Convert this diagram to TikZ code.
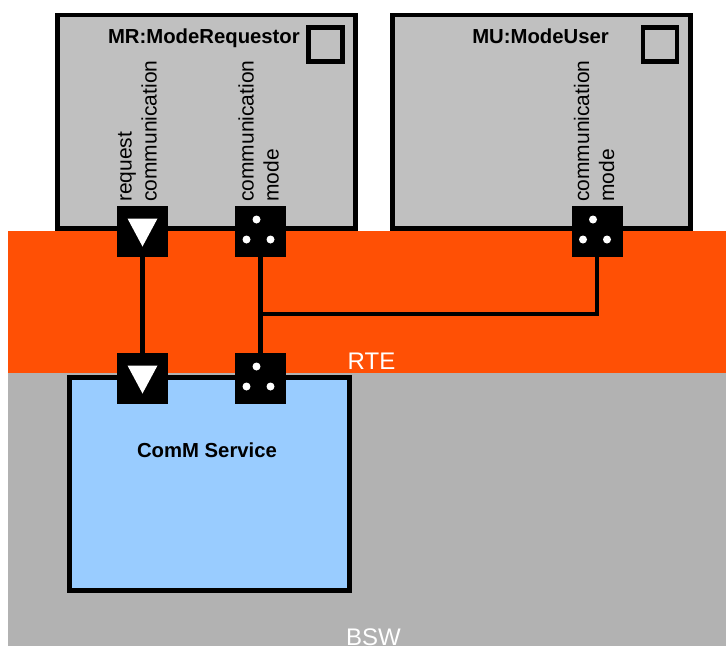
\documentclass[tikz,border=0pt]{standalone}
\usepackage{fontspec}
\setmainfont{Liberation Sans}
\usepackage{tikz}
\usetikzlibrary{positioning}
\usepackage{xcolor}
\definecolor{rteorange}{RGB}{255,80,5}
\definecolor{bswgray}{RGB}{178,178,178}
\definecolor{swcgray}{RGB}{192,192,192}
\definecolor{comblue}{RGB}{153,204,255}

\begin{document}
\begin{tikzpicture}[x=1pt,y=-1pt,line join=miter,
  swc/.style={draw=black,line width=4.5pt,fill=swcgray,inner sep=0pt},
  icon/.style={draw=black,line width=4.5pt,inner sep=0pt,minimum size=34pt},
  port/.style={fill=black,inner sep=0pt,outer sep=0pt,minimum size=51pt},
  wire/.style={draw=black,line width=4.5pt},
  title/.style={font=\bfseries\fontsize{20.3}{23}\selectfont,inner sep=0pt},
  portlbl/.style={rotate=90,anchor=west,align=left,inner sep=0pt,font=\fontsize{21}{25}\selectfont},
  layer/.style={text=white,inner sep=0pt,font=\fontsize{24}{28}\selectfont}]
\useasboundingbox (0,0) rectangle (726,646);
% RTE and BSW layers
\fill[rteorange] (8,231) rectangle (726,373);
\fill[bswgray] (8,373) rectangle (726,646);
\node[layer,anchor=base] (rte) at (371.5,369) {RTE};
\node[layer,anchor=base] (bsw) at (373.5,645) {BSW};
% software components
\node[swc,minimum width=298pt,minimum height=213.5pt] (mr) at (206.5,121.75) {};
\node[swc,minimum width=298pt,minimum height=213.5pt] (mu) at (541.5,121.75) {};
\node[icon] (mrIcon) at (325.5,44.5) {};
\node[icon] (muIcon) at (660,44.5) {};
\node[title,anchor=base east] (mrTitle) at (300,43) {MR:ModeRequestor};
\node[title,anchor=base east] (muTitle) at (609,43) {MU:ModeUser};
\node[swc,fill=comblue,line width=5pt,minimum width=280pt,minimum height=213pt] (com) at (209.5,484) {};
\node[title] (comTitle) at (207,450) {ComM Service};
% ports
\node[port] (mrReq) at (142.5,231.5) {};
\node[port] (mrMode) at (260.5,231.5) {};
\node[port] (muMode) at (597,231.5) {};
\node[port] (comReq) at (142.5,378.5) {};
\node[port] (comMode) at (260.5,378.5) {};
\foreach \p in {mrReq,comReq}
  \fill[white,shift={(\p.center)}] (-15,-13) -- (15,-13) -- (0,15) -- cycle;
\foreach \p in {mrMode,muMode,comMode}
  \foreach \d in {(-4,-12),(-14,8),(10,8)}
    \fill[white,shift={(\p.center)}] \d circle (4);
\node[portlbl] (mrReqLbl) at (137.5,202) {request\\communication};
\node[portlbl] (mrModeLbl) at (258.5,202) {communication\\mode};
\node[portlbl] (muModeLbl) at (594,202) {communication\\mode};
% connectors
\coordinate (tap) at (260.5,314);
\draw[wire] (mrReq) -- (comReq);
\draw[wire] (mrMode) -- (comMode);
\draw[wire] (muMode) |- (tap);
\end{tikzpicture}
\end{document}
